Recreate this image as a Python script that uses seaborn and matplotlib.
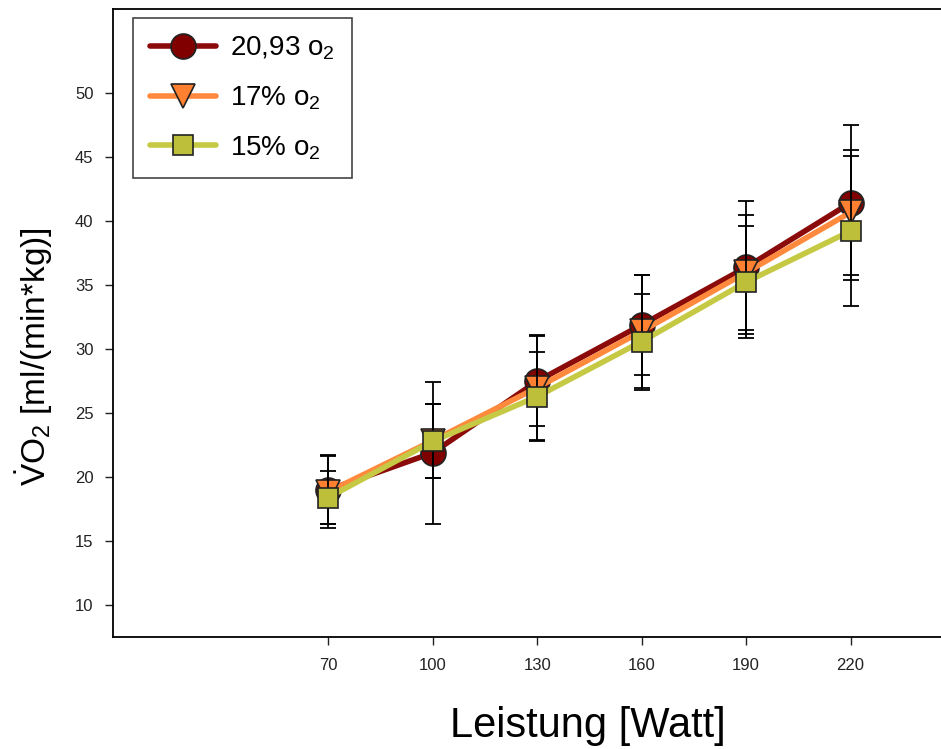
import numpy as np
import pandas as pd
import matplotlib
matplotlib.use("Agg")
import matplotlib.pyplot as plt
import seaborn as sns

# Load levels (Watt) and VO2 means / standard deviations per oxygen condition
watt = [70, 100, 130, 160, 190, 220]
series_names = ["20,93 o$_2$", "17% o$_2$", "15% o$_2$"]
vo2_2093 = [19.0, 21.9, 27.5, 31.9, 36.4, 41.45]
sd_2093 = [2.7, 5.55, 3.5, 3.9, 5.2, 6.05]
vo2_17 = [18.85, 22.85, 27.0, 31.4, 36.0, 40.7]
sd_17 = [2.8, 2.9, 4.1, 4.4, 4.5, 4.9]
vo2_15 = [18.4, 22.8, 26.3, 30.6, 35.25, 39.24]
sd_15 = [2.1, 2.9, 3.5, 3.75, 4.35, 5.85]
y_ticks = [10, 15, 20, 25, 30, 35, 40, 45, 50]

sns.set_style("ticks")
plt.rcParams["font.family"] = ["Liberation Sans", "DejaVu Sans"]
plt.rcParams["mathtext.fontset"] = "custom"
plt.rcParams["mathtext.rm"] = "Liberation Sans"
plt.rcParams["mathtext.it"] = "Liberation Sans:italic"

fig = plt.figure(figsize=(9.41, 7.49), dpi=100)
# axes box runs past the right edge of the canvas
ax = fig.add_axes([113 / 941, 1 - 637 / 749, (1063 - 113) / 941, (637 - 9) / 749])

styles = [
    dict(color="#800000", line="#8B0A0A", marker="o", ms=18),
    dict(color="#FF8030", line="#FF8A3D", marker="v", ms=17),
    dict(color="#BDBE3A", line="#C5C944", marker="s", ms=15),
]
means = [vo2_2093, vo2_17, vo2_15]
sds = [sd_2093, sd_17, sd_15]

for k, (name, m, s, st) in enumerate(zip(series_names, means, sds, styles)):
    df = pd.DataFrame({"Watt": watt, "VO2": m})
    ax.errorbar(watt, m, yerr=s, fmt="none", ecolor="black", elinewidth=1.3,
                capsize=5.5, capthick=1.3, zorder=3 + 2 * k)
    sns.lineplot(data=df, x="Watt", y="VO2", ax=ax, color=st["line"], linewidth=4,
                 marker=st["marker"], markersize=st["ms"], markerfacecolor=st["color"],
                 markeredgecolor="#222222", markeredgewidth=1.2, label=name,
                 zorder=4 + 2 * k)

ax.set_xlim(8.2, 281)
ax.set_ylim(7.5, 56.6)
ax.set_xticks(watt)
ax.set_xticklabels([str(w) for w in watt])
ax.set_yticks(y_ticks)
ax.tick_params(axis="both", labelsize=12, length=6, width=1, colors="#222222",
               direction="out", pad=8)
ax.tick_params(axis="x", pad=9)

for side in ["left", "bottom", "top", "right"]:
    ax.spines[side].set_visible(True)
    ax.spines[side].set_color("black")
    ax.spines[side].set_linewidth(1.3)

ax.set_xlabel("Leistung [Watt]", fontsize=30, color="black", labelpad=24)
ax.set_ylabel(r"$\dot{\rm V}$O$_2$ [ml/(min*kg)]", fontsize=24, color="black")
ax.yaxis.set_label_coords(-0.061, 0.446)

leg = ax.legend(loc="upper left", bbox_to_anchor=(20 / 950, 1 - 9 / 628), fontsize=20,
                frameon=True, fancybox=False, framealpha=1, edgecolor="#444444",
                handlelength=2.4, handletextpad=0.5, borderpad=0.6, labelspacing=0.8,
                borderaxespad=0)
leg.get_frame().set_linewidth(1.2)
for t in leg.get_texts():
    t.set_color("black")

fig.savefig("out.png", dpi=100)
